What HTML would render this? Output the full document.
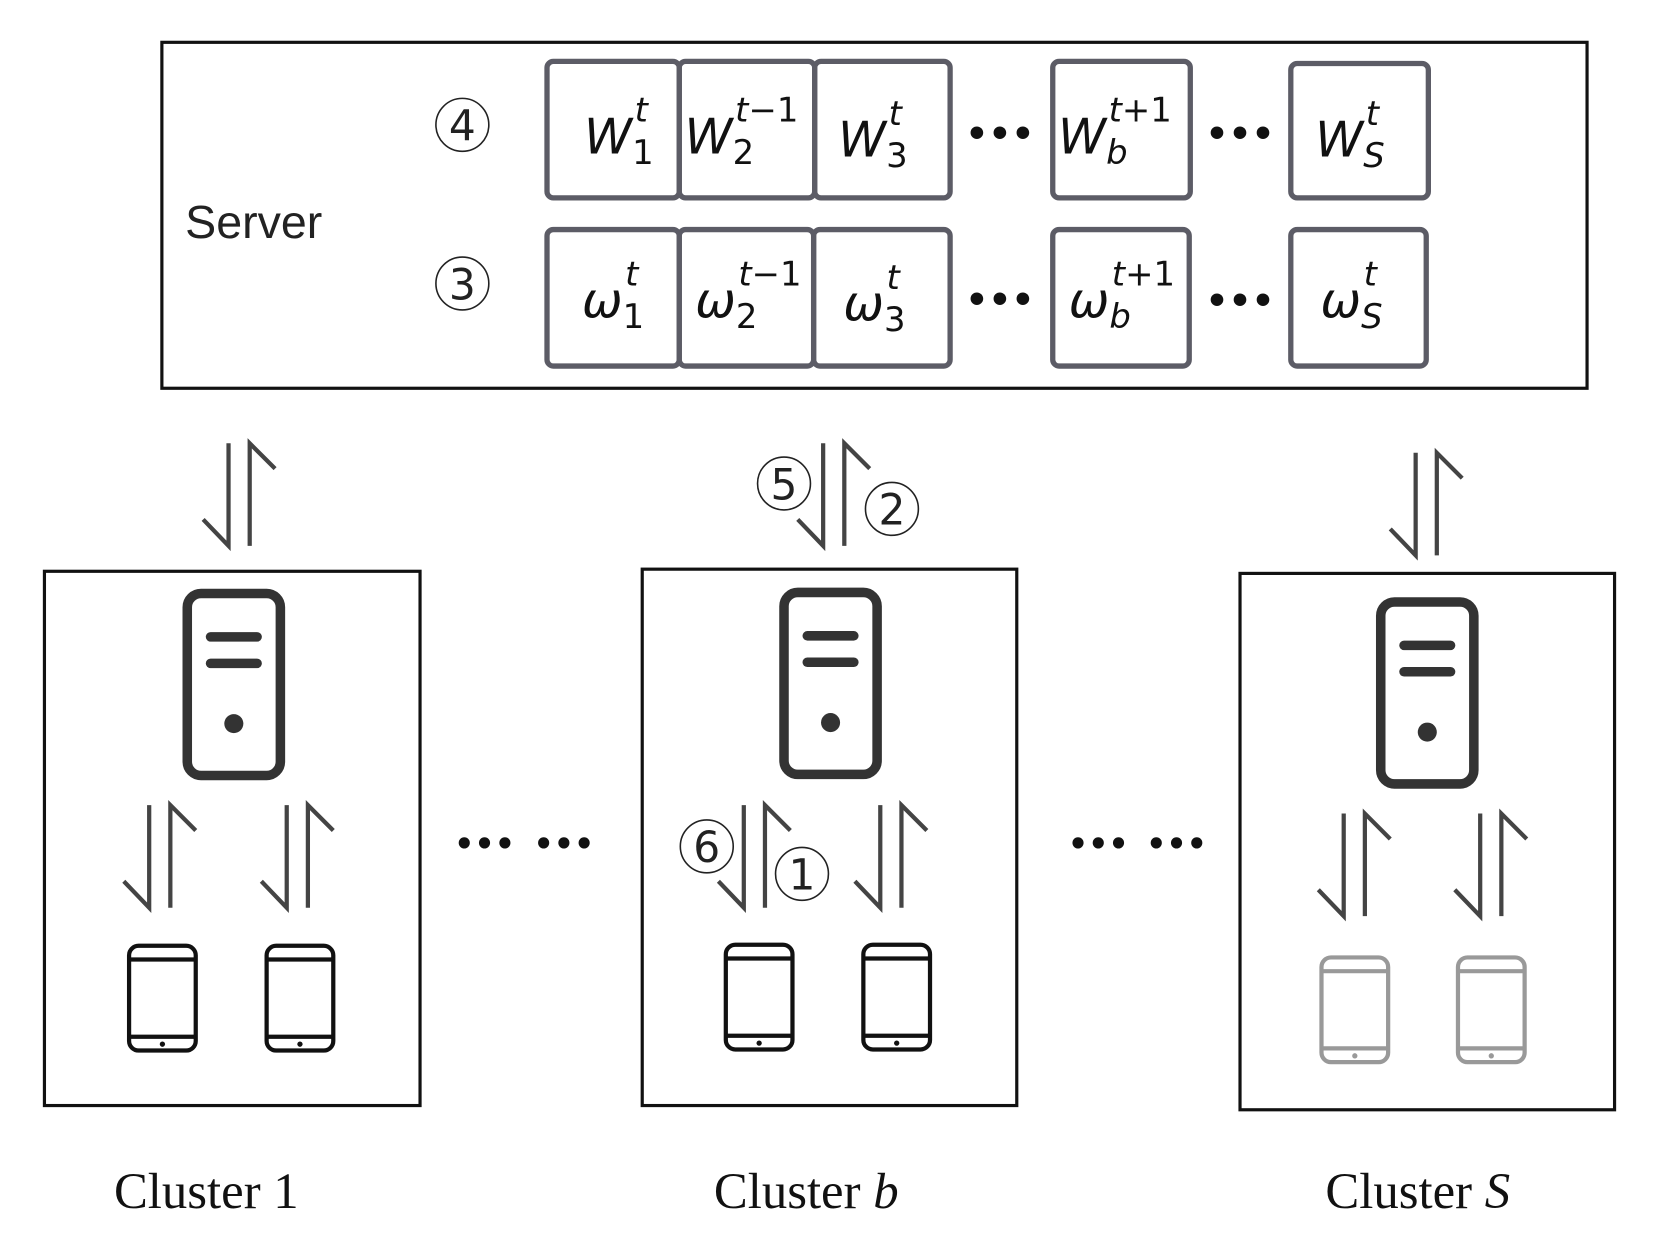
<!DOCTYPE html>
<html><head><meta charset="utf-8"><style>html,body{margin:0;padding:0;background:#fff}svg{display:block}</style></head>
<body>
<svg width="1659" height="1260" viewBox="0 0 1568 1191" preserveAspectRatio="none" xmlns="http://www.w3.org/2000/svg">
<defs>
<g id="hp" fill="none" stroke="#444" stroke-width="4">
<path d="M-10,0 V97 L-34,72"/>
<path d="M10,97 V0 L34,24"/>
</g>
<g id="srv">
<rect x="0" y="0" width="88" height="172" rx="13" fill="none" stroke="#333" stroke-width="9"/>
<line x1="22" y1="41" x2="66" y2="41" stroke="#333" stroke-width="9" stroke-linecap="round"/>
<line x1="22" y1="66" x2="66" y2="66" stroke="#333" stroke-width="9" stroke-linecap="round"/>
<circle cx="44" cy="123" r="9" fill="#333"/>
</g>
<g id="ph">
<rect x="0" y="0" width="63" height="99" rx="9" fill="none" stroke-width="4"/>
<line x1="0" y1="13" x2="63" y2="13" stroke-width="4"/>
<line x1="0" y1="86" x2="63" y2="86" stroke-width="4"/>
<circle cx="31.5" cy="93" r="2.5" stroke="none"/>
</g>
</defs>
<rect x="153" y="40" width="1347" height="327" fill="none" stroke="#111" stroke-width="3"/>
<text x="175" y="225" font-family="Liberation Sans, DejaVu Sans, sans-serif" font-size="44" fill="#222">Server</text>
<g fill="none" stroke="#5c5c66" stroke-width="5">
<rect x="517" y="58" width="125" height="129" rx="6"/><rect x="642" y="58" width="128" height="129" rx="6"/><rect x="770" y="58" width="128" height="129" rx="6"/>
<rect x="995" y="58" width="130" height="129" rx="6"/><rect x="1220" y="60" width="130" height="127" rx="6"/>
<rect x="517" y="217" width="125" height="129" rx="6"/><rect x="642" y="217" width="127" height="129" rx="6"/><rect x="769" y="217" width="129" height="129" rx="6"/>
<rect x="995" y="217" width="129" height="129" rx="6"/><rect x="1220" y="217" width="128" height="129" rx="6"/>
</g>
<g font-family="DejaVu Sans, sans-serif" fill="#111">
<g font-size="34" font-weight="bold"><text x="945" y="138" text-anchor="middle">•••</text><text x="1172" y="138" text-anchor="middle">•••</text><text x="945" y="295" text-anchor="middle">•••</text><text x="1172" y="296" text-anchor="middle">•••</text></g>
<g font-size="46">
<text x="552" y="145"><tspan font-style="italic">W</tspan><tspan font-size="32" dy="10">1</tspan><tspan font-size="32" font-style="italic" dx="-18" dy="-40">t</tspan></text>
<text x="647" y="145"><tspan font-style="italic">W</tspan><tspan font-size="32" dy="10">2</tspan><tspan font-size="32" font-style="italic" dx="-18" dy="-40">t</tspan><tspan font-size="32" dy="0">−1</tspan></text>
<text x="792" y="148"><tspan font-style="italic">W</tspan><tspan font-size="32" dy="10">3</tspan><tspan font-size="32" font-style="italic" dx="-18" dy="-40">t</tspan></text>
<text x="1000" y="145"><tspan font-style="italic">W</tspan><tspan font-size="32" font-style="italic" dy="10">b</tspan><tspan font-size="32" font-style="italic" dx="-18" dy="-40">t</tspan><tspan font-size="32">+1</tspan></text>
<text x="1243" y="148"><tspan font-style="italic">W</tspan><tspan font-size="32" font-style="italic" dy="10">S</tspan><tspan font-size="32" font-style="italic" dx="-18" dy="-40">t</tspan></text>
<text x="550" y="300"><tspan font-style="italic">ω</tspan><tspan font-size="32" dy="10">1</tspan><tspan font-size="32" font-style="italic" dx="-18" dy="-40">t</tspan></text>
<text x="657" y="300"><tspan font-style="italic">ω</tspan><tspan font-size="32" dy="10">2</tspan><tspan font-size="32" font-style="italic" dx="-18" dy="-40">t</tspan><tspan font-size="32">−1</tspan></text>
<text x="797" y="303"><tspan font-style="italic">ω</tspan><tspan font-size="32" dy="10">3</tspan><tspan font-size="32" font-style="italic" dx="-18" dy="-40">t</tspan></text>
<text x="1010" y="300"><tspan font-style="italic">ω</tspan><tspan font-size="32" font-style="italic" dy="10">b</tspan><tspan font-size="32" font-style="italic" dx="-18" dy="-40">t</tspan><tspan font-size="32">+1</tspan></text>
<text x="1248" y="300"><tspan font-style="italic">ω</tspan><tspan font-size="32" font-style="italic" dy="10">S</tspan><tspan font-size="32" font-style="italic" dx="-18" dy="-40">t</tspan></text>
</g>
</g>
<g fill="none" stroke="#111" stroke-width="3">
<rect x="42" y="540" width="355" height="505"/>
<rect x="607" y="538" width="354" height="507"/>
<rect x="1172" y="542" width="354" height="507"/>
</g>
<use href="#hp" x="226" y="419"/>
<use href="#hp" x="788" y="419"/>
<use href="#hp" x="1348" y="428"/>
<use href="#hp" x="151" y="761"/><use href="#hp" x="281" y="761"/>
<use href="#hp" x="713" y="761"/><use href="#hp" x="842" y="761"/>
<use href="#hp" x="1280" y="769"/><use href="#hp" x="1409" y="769"/>
<g font-family="DejaVu Sans, sans-serif" font-size="40" text-anchor="middle" fill="#222">
<circle cx="437" cy="118" r="25" fill="none" stroke="#222" stroke-width="1.5"/><text x="437" y="133">4</text>
<circle cx="437" cy="268" r="25" fill="none" stroke="#222" stroke-width="1.5"/><text x="437" y="283">3</text>
<circle cx="741" cy="457" r="25" fill="#fff" stroke="#222" stroke-width="1.5"/><text x="741" y="472">5</text>
<circle cx="843" cy="481" r="25" fill="#fff" stroke="#222" stroke-width="1.5"/><text x="843" y="496">2</text>
<circle cx="668" cy="800" r="25" fill="#fff" stroke="#222" stroke-width="1.5"/><text x="668" y="815">6</text>
<circle cx="758" cy="826" r="25" fill="#fff" stroke="#222" stroke-width="1.5"/><text x="758" y="841">1</text>
</g>
<use href="#srv" x="177" y="561"/>
<use href="#srv" x="741" y="560"/>
<use href="#srv" x="1305" y="569"/>
<g stroke="#111" fill="#111"><use href="#ph" x="122" y="894"/><use href="#ph" x="252" y="894"/><use href="#ph" x="686" y="893"/><use href="#ph" x="816" y="893"/></g>
<g stroke="#999" fill="#999"><use href="#ph" x="1249" y="905"/><use href="#ph" x="1378" y="905"/></g>
<g font-family="DejaVu Sans, sans-serif" font-size="30" font-weight="bold" fill="#111" text-anchor="middle">
<text x="458" y="808">•••</text><text x="533" y="808">•••</text><text x="1038" y="808">•••</text><text x="1112" y="808">•••</text>
</g>
<g font-family="Liberation Serif, serif" font-size="48" fill="#111" text-anchor="middle">
<text x="195" y="1142">Cluster 1</text>
<text x="762" y="1142">Cluster <tspan font-style="italic">b</tspan></text>
<text x="1340" y="1142">Cluster <tspan font-style="italic">S</tspan></text>
</g>
</svg>
</body></html>
